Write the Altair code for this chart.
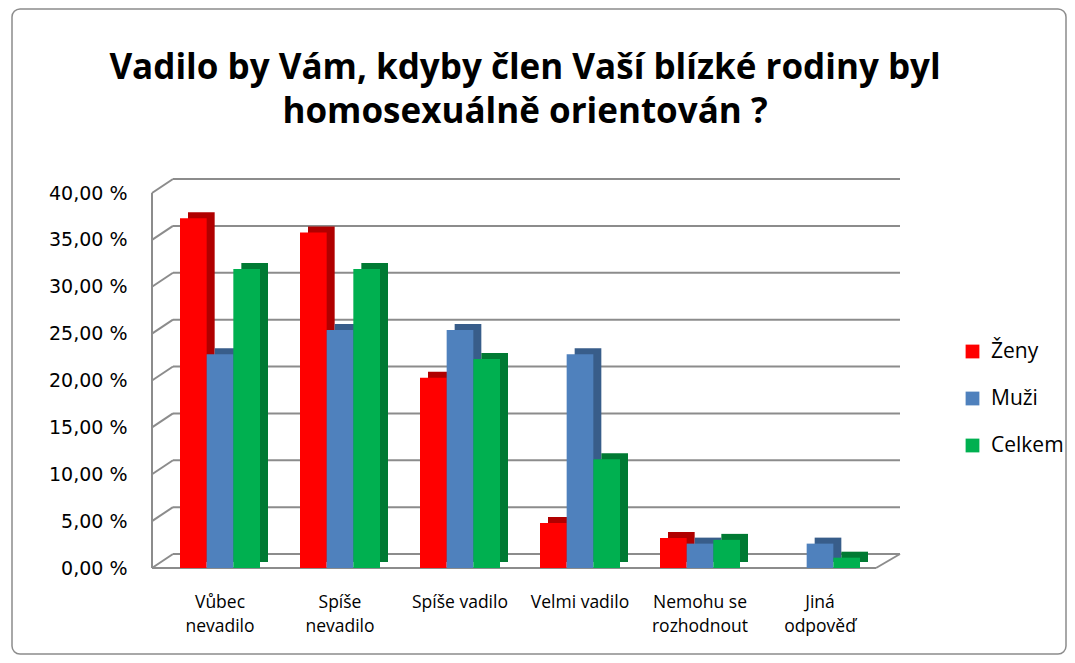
import altair as alt
import pandas as pd

categories = ["Vůbec nevadilo", "Spíše nevadilo", "Spíše vadilo", "Velmi vadilo",
              "Nemohu se rozhodnout", "Jiná odpověď"]
label_lines = {
    "Vůbec nevadilo": ["Vůbec", "nevadilo"],
    "Spíše nevadilo": ["Spíše", "nevadilo"],
    "Spíše vadilo": ["Spíše vadilo"],
    "Velmi vadilo": ["Velmi vadilo"],
    "Nemohu se rozhodnout": ["Nemohu se", "rozhodnout"],
    "Jiná odpověď": ["Jiná", "odpověď"],
}
series = ["Ženy", "Muži", "Celkem"]
zeny = [37.3, 35.8, 20.3, 4.8, 3.2, 0.0]
muzi = [22.8, 25.4, 25.4, 22.8, 2.6, 2.6]
celkem = [31.9, 31.9, 22.3, 11.6, 3.0, 1.1]
colors = ["#FF0000", "#4F81BD", "#00B050"]
dark_colors = ["#B00000", "#385D8A", "#007A33"]
ticks = [0, 5, 10, 15, 20, 25, 30, 35, 40]
title_lines = ["Vadilo by Vám, kdyby člen Vaší blízké rodiny byl", "homosexuálně orientován ?"]

rows = []
for s, vals in zip(series, [zeny, muzi, celkem]):
    for c, v in zip(categories, vals):
        rows.append({"kategorie": c, "skupina": s, "hodnota": v})
df = pd.DataFrame(rows)
tick_df = pd.DataFrame({"t": ticks})

W, H = 720, 375
FONT = "Open Sans"
GRID = "#8C8C8C"

expr_parts = []
for c, lines in label_lines.items():
    arr = "[" + ",".join("'" + l + "'" for l in lines) + "]"
    expr_parts.append(f"datum.label == '{c}' ? {arr} : ")
label_expr = "".join(expr_parts) + "datum.label"

yscale = alt.Scale(domain=[0, 40], nice=False, zero=True)
xscale = alt.Scale(domain=categories, range=[0, W], paddingInner=1/3, paddingOuter=1/6)

y_axis = alt.Axis(title=None, values=ticks, grid=False, ticks=False, domain=False,
                  labelExpr="replace(format(datum.value, '.2f'), '.', ',') + ' %'",
                  labelFont="DejaVu Sans", labelFontSize=19, labelColor="#000000",
                  labelPadding=33)
x_axis = alt.Axis(title=None, labelExpr=label_expr, labelAngle=0, ticks=False,
                  domain=False, labelFont=FONT, labelFontSize=17.5,
                  labelColor="#000000", labelPadding=25, labelLineHeight=24)

# back-wall gridlines
grid = alt.Chart(tick_df).mark_rule(color=GRID, strokeWidth=2, yOffset=-14).encode(
    y=alt.Y("t:Q", scale=yscale, axis=y_axis),
    x=alt.value(13), x2=alt.value(740),
)
# left wall diagonals
diag = alt.Chart(tick_df).mark_rule(color=GRID, strokeWidth=2, y2Offset=-14).encode(
    y=alt.Y("t:Q", scale=yscale, axis=y_axis),
    y2="t:Q",
    x=alt.value(-8), x2=alt.value(13),
)
left_wall = alt.Chart(pd.DataFrame({"a": [0], "b": [40]})).mark_rule(color=GRID, strokeWidth=2).encode(
    y=alt.Y("a:Q", scale=yscale, axis=y_axis), y2="b:Q", x=alt.value(-8),
)
floor_front = alt.Chart(pd.DataFrame({"a": [0]})).mark_rule(color=GRID, strokeWidth=2).encode(
    y=alt.Y("a:Q", scale=yscale, axis=y_axis), x=alt.value(-8), x2=alt.value(716),
)
floor_right = alt.Chart(pd.DataFrame({"a": [0]})).mark_rule(color=GRID, strokeWidth=2, y2Offset=-14).encode(
    y=alt.Y("a:Q", scale=yscale, axis=y_axis), y2="a:Q", x=alt.value(716), x2=alt.value(740),
)

shadow = alt.Chart(df).mark_bar(yOffset=-6, y2Offset=-6).encode(
    x=alt.X("kategorie:N", sort=categories, scale=xscale, axis=x_axis),
    xOffset=alt.XOffset("skupina:N", sort=series,
                        scale=alt.Scale(domain=series, range=[8, 88])),
    y=alt.Y("hodnota:Q", scale=yscale, axis=y_axis),
    color=alt.Color("skupina:N", sort=series,
                    scale=alt.Scale(domain=series, range=dark_colors), legend=None),
)

bars = alt.Chart(df).mark_bar().encode(
    x=alt.X("kategorie:N", sort=categories, scale=xscale, axis=x_axis),
    xOffset=alt.XOffset("skupina:N", sort=series,
                        scale=alt.Scale(domain=series, range=[0, 80])),
    y=alt.Y("hodnota:Q", scale=yscale, axis=y_axis),
    color=alt.Color("skupina:N", sort=series,
                    scale=alt.Scale(domain=series, range=colors),
                    legend=alt.Legend(title=None, orient="none", legendX=802, legendY=148,
                                      symbolType="square", symbolSize=190,
                                      symbolStrokeWidth=0, labelFont=FONT,
                                      labelFontSize=21, labelColor="#000000",
                                      rowPadding=25, labelOffset=8)),
)

frame = alt.Chart(pd.DataFrame({"a": [0]})).mark_rect(
    fill=None, stroke=GRID, strokeWidth=1.5, cornerRadius=8
).encode(
    x=alt.value(-148), x2=alt.value(906), y=alt.value(-184), y2=alt.value(461),
)

title = alt.Chart(pd.DataFrame({"a": [0]})).mark_text(
    font=FONT, fontSize=35, fontWeight="bold", color="#000000",
    lineHeight=44, baseline="middle", align="center"
).encode(
    x=alt.value(365), y=alt.value(-125), text=alt.value(title_lines),
)

chart = alt.layer(frame, title, grid, diag, left_wall, floor_front, floor_right, shadow, bars).resolve_scale(
    color="independent", xOffset="independent"
).properties(
    width=W, height=H,
    background="#FFFFFF",
    autosize=alt.AutoSizeParams(type="none"),
    padding={"left": 152, "top": 185, "right": 187, "bottom": 87},
).configure_view(stroke=None)

chart.save("out.html", embed_options={"renderer": "svg", "actions": False})
